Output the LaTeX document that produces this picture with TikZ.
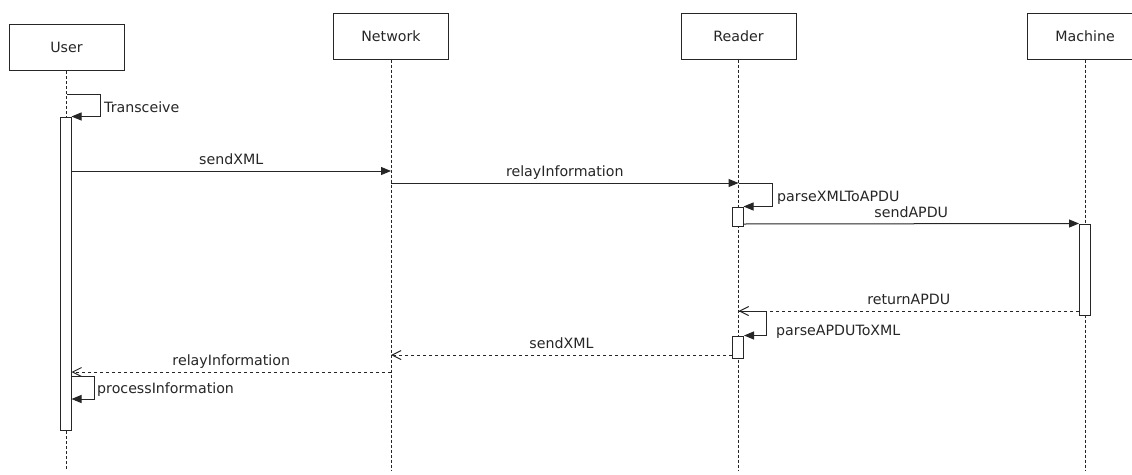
\documentclass[tikz,border=0pt]{standalone}
\usepackage{fontspec}
\setmainfont{DejaVu Sans}
\usetikzlibrary{arrows.meta}
\begin{document}
\begin{tikzpicture}[x=1pt,y=-1pt,
  every node/.style={font=\fontsize{14.2}{16}\selectfont, text=black!85},
  participant/.style={draw=black!85, line width=1pt, fill=white,
    minimum width=115, minimum height=46, inner sep=0},
  lifeline/.style={draw=black!85, line width=0.9pt, dash pattern=on 3pt off 2pt},
  act/.style={draw=black!85, line width=1pt, fill=white, minimum width=11, inner sep=0},
  call/.style={draw=black!85, line width=1pt, -{Triangle[length=10pt,width=8pt]}},
  reply/.style={draw=black!85, line width=1pt, dash pattern=on 3pt off 3pt,
    -{Straight Barb[length=9pt,width=9pt]}},
  msglbl/.style={anchor=base, inner sep=0, yshift=6.5pt},
  selflbl/.style={anchor=base west, inner sep=0}]
\useasboundingbox (0,0) rectangle (1132,474);
\fill[white] (0,0) rectangle (1132,474);
\clip (0,0) rectangle (1132,474);

% participants
\node[participant] (user) at (66.5,47.5) {User};
\node[participant] (network) at (391,36) {Network};
\node[participant] (reader) at (738.5,36) {Reader};
\node[participant] (machine) at (1085,36) {Machine};

% lifelines
\foreach \p in {user,network,reader,machine}
  \draw[lifeline] (\p.south) -- (\p.south |- 0,470);

% activation bars
\node[act, minimum height=313] (uact) at (65.5,273.5) {};
\node[act, minimum height=19] (ract1) at (737.5,216.5) {};
\node[act, minimum height=22] (ract2) at (738,347) {};
\node[act, minimum height=91] (mact) at (1085,269.5) {};

% User: Transceive
\draw[call] (user.south |- 0,94) -- ++(33.5,0) |- (uact.north east);
\node[selflbl] (ltrans) at (104,112) {Transceive};

% User -> Network
\draw[call] (uact.east |- 0,171) -- (network.south |- 0,171)
  node[msglbl, midway] (lsend1) {sendXML};

% Network -> Reader
\draw[call] (network.south |- 0,183) -- (reader.south |- 0,183)
  node[msglbl, midway] (lrelay1) {relayInformation};

% Reader: parseXMLToAPDU
\draw[call] (reader.south |- 0,183) -- ++(33.5,0) |- (ract1.north east);
\node[selflbl] (lparse1) at (777,201) {parseXMLToAPDU};

% Reader -> Machine
\draw[call] (ract1.east |- 0,224) -- (mact.north west)
  node[msglbl, midway] (lsendapdu) {sendAPDU};

% Machine -> Reader (return)
\draw[reply] (mact.west |- 0,311) -- (reader.south |- 0,311)
  node[msglbl, midway] (lreturn) {returnAPDU};

% Reader: parseAPDUToXML
\draw[call] (reader.south |- 0,311) -- ++(28,0) |- (ract2.north east);
\node[selflbl] (lparse2) at (776,335) {parseAPDUToXML};

% Reader -> Network (return)
\draw[reply] (ract2.west |- 0,355) -- (network.south |- 0,355)
  node[msglbl, midway] (lsend2) {sendXML};

% Network -> User (return)
\draw[reply] (network.south |- 0,372) -- (uact.east |- 0,372)
  node[msglbl, midway] (lrelay2) {relayInformation};

% User: processInformation
\draw[call] (uact.east |- 0,376) -- ++(23,0) |- (uact.east |- 0,399);
\node[selflbl] (lproc) at (97,393) {processInformation};
\end{tikzpicture}
\end{document}
